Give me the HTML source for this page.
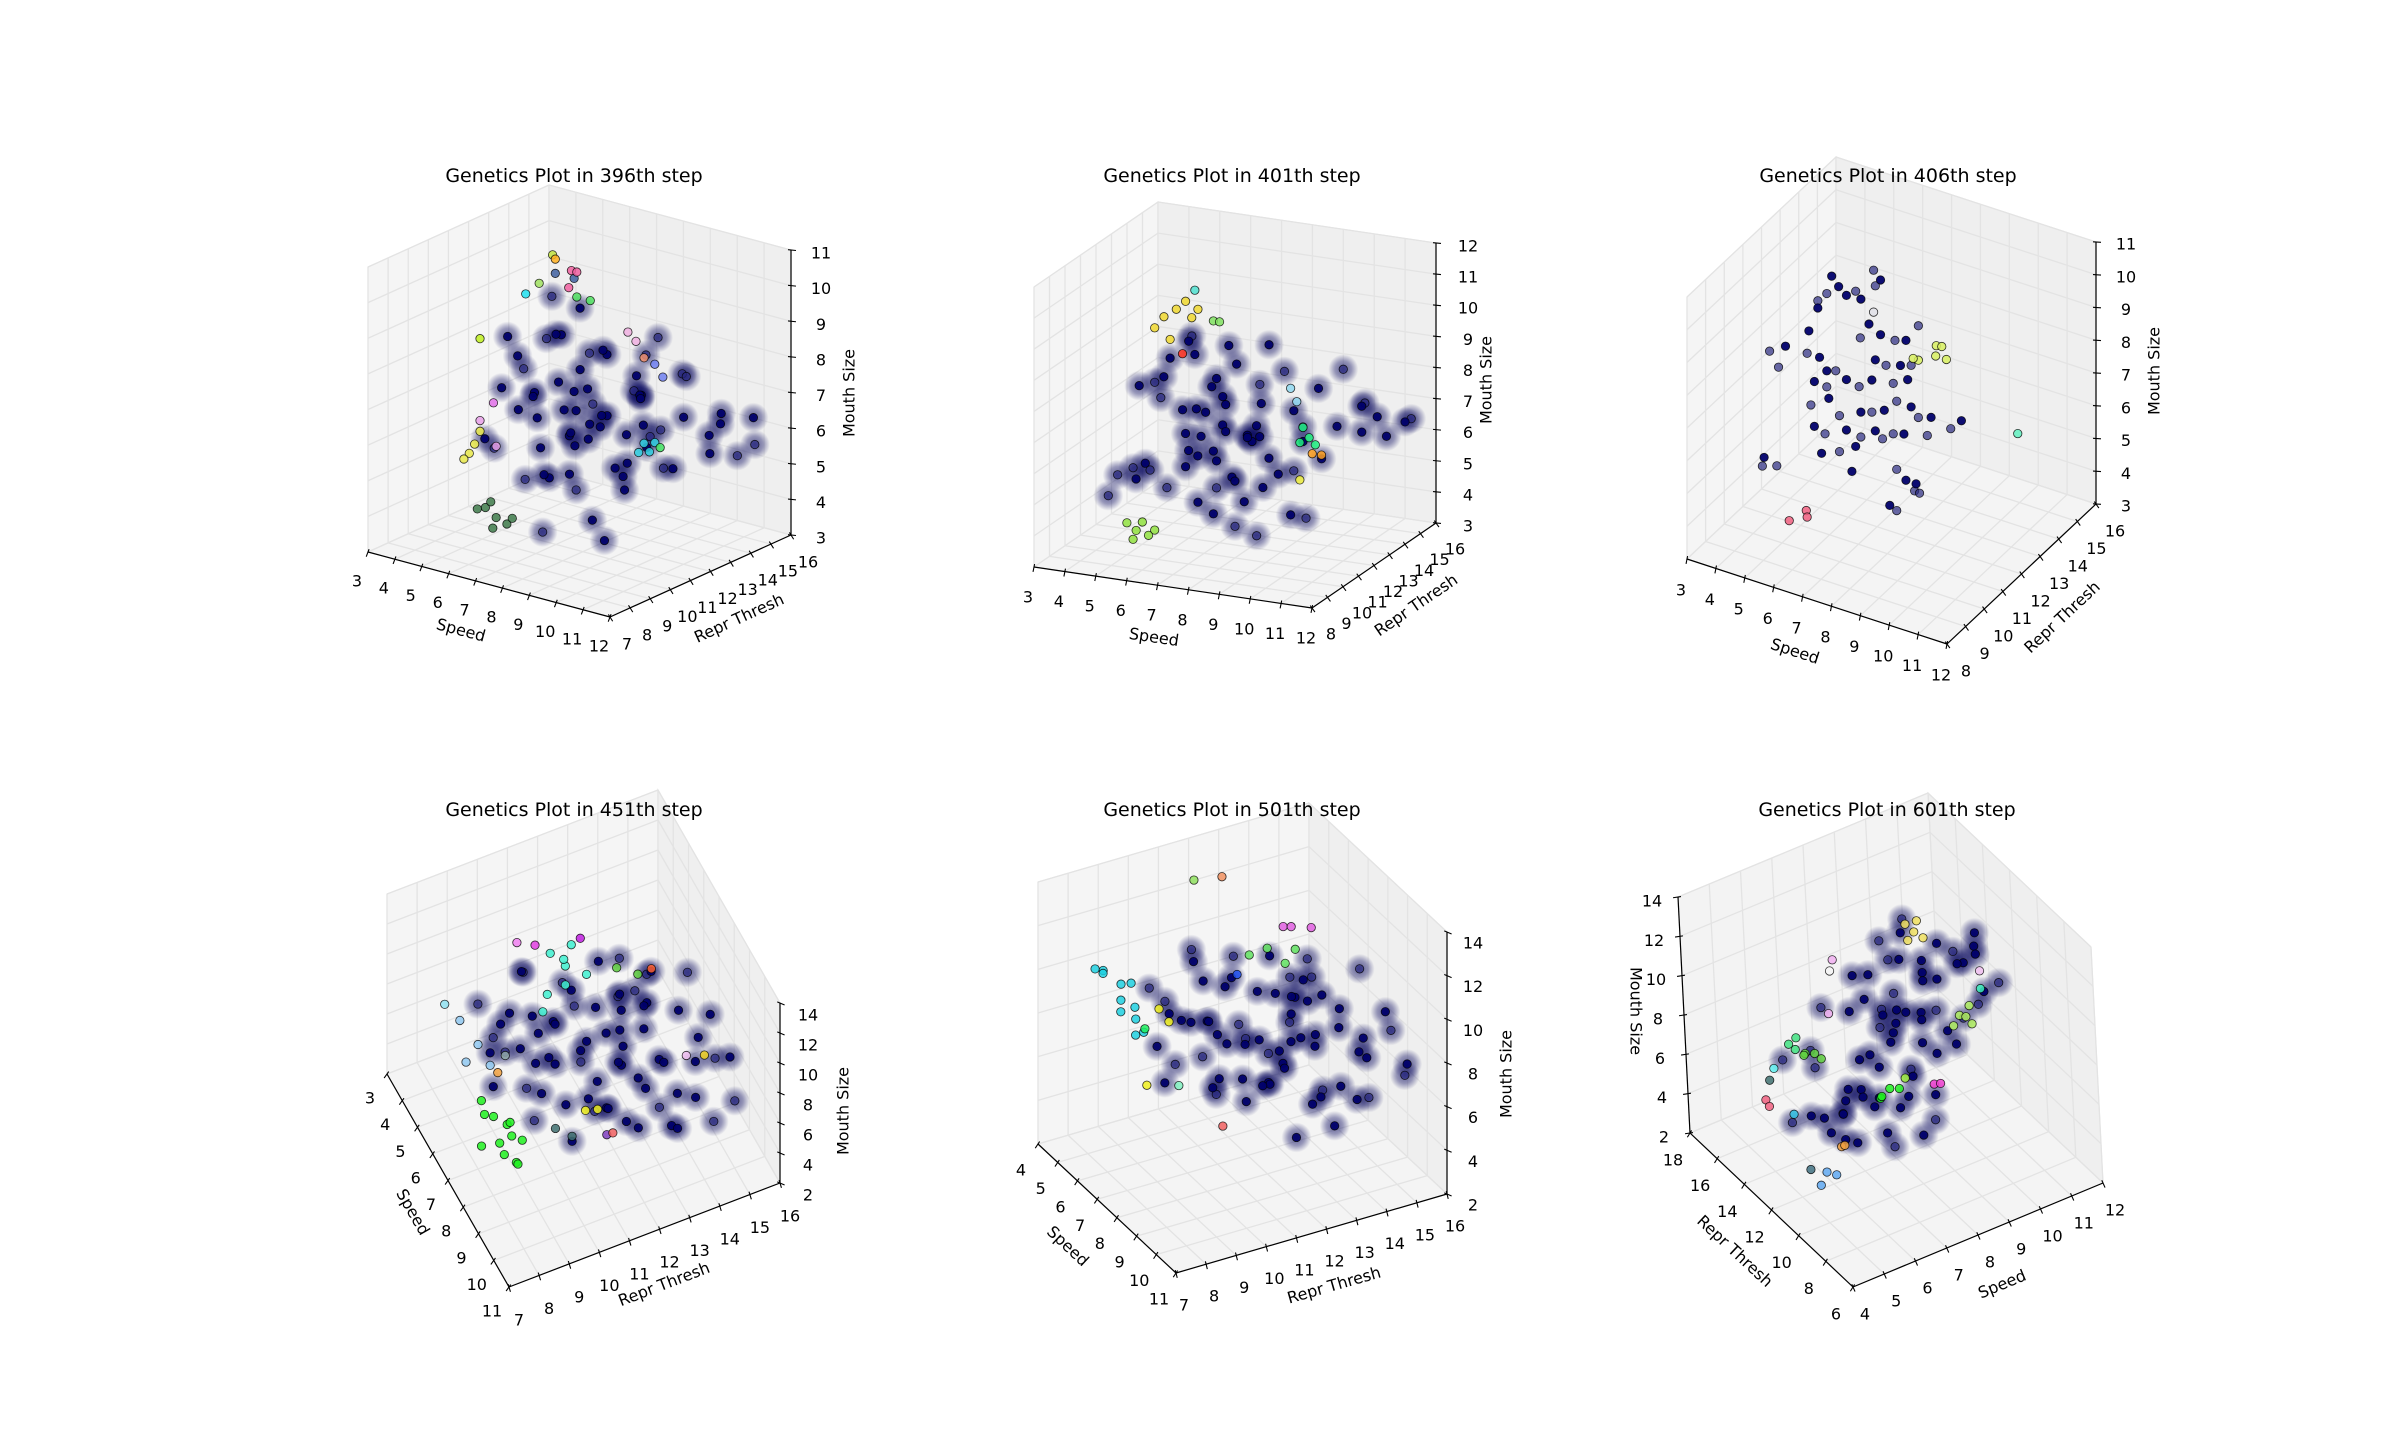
<!DOCTYPE html>
<html><head><meta charset="utf-8"><title>Genetics Plots</title>
<style>
html,body{margin:0;padding:0;background:#fff;}
svg{display:block;font-family:"DejaVu Sans","Liberation Sans",sans-serif;}
</style></head>
<body>
<svg id="fig" width="2400" height="1455" viewBox="0 0 2400 1455" xmlns="http://www.w3.org/2000/svg">
<defs>
<radialGradient id="haloGrad">
<stop offset="0" stop-color="#00005a" stop-opacity="0.62"/>
<stop offset="0.55" stop-color="#00005a" stop-opacity="0.38"/>
<stop offset="1" stop-color="#00005a" stop-opacity="0"/>
</radialGradient>
</defs>
<rect x="0" y="0" width="2400" height="1455" fill="#ffffff"/>
</svg>
<script>
// ---------- DATA: [speed, repr thresh, mouth size, colour key] ----------
const p1Points = [[6.2,11,7.1,'N'],[7.0,12,6.5,'N'],[7.8,11.5,7.4,'N'],[8.5,12.5,6.0,'N'],[6.8,10.5,5.8,'N'],[7.4,13,7.9,'N'],[5.9,12,8.3,'L'],[8.9,11,7.0,'N'],[9.5,12,6.6,'N'],[6.5,13.5,6.2,'L'],[7.2,9.8,6.9,'N'],[8.1,10.2,5.4,'N'],[5.6,11,6.5,'N'],[6.1,9.5,7.6,'N'],[7.9,13.8,7.2,'N'],[8.7,13.2,8.1,'L'],[9.8,10.8,5.9,'N'],[10.4,12.8,6.8,'N'],[11.2,13,6.4,'N'],[11.6,12.5,6.1,'N'],[10.9,14,6.7,'N'],[11.8,13.6,5.8,'L'],[6.6,11.8,8.6,'N'],[5.8,10.2,8.8,'N'],[5.2,11.5,7.8,'N'],[4.9,12.2,7.2,'L'],[5.4,9.6,6.0,'N'],[6.9,10.8,4.9,'N'],[7.6,11.2,4.6,'L'],[8.3,12.2,5.1,'N'],[9.1,11.6,4.8,'N'],[9.8,12.6,5.3,'L'],[8.8,10.4,4.2,'N'],[7.7,9.4,3.9,'L'],[9.4,10.2,3.8,'N'],[6.3,12.6,5.5,'N'],[7.3,12.8,5.9,'N'],[8.0,12,8.4,'N'],[9.0,13.4,8.6,'L'],[7.0,11,8.9,'N'],[6.4,13,9.0,'N'],[5.5,12.8,9.2,'L'],[8.2,11,6.2,'N'],[7.1,11.6,6.0,'N'],[6.7,12.3,6.9,'N'],[7.6,10.6,7.0,'N'],[8.4,11.4,6.8,'N'],[9.2,12.3,7.3,'N'],[10.0,11.5,6.2,'N'],[9.6,13.8,7.6,'L'],[10.6,12.0,5.6,'N'],[10.2,13.2,7.8,'L'],[8.6,9.8,6.4,'N'],[7.9,9.2,5.6,'N'],[5.0,10.6,5.4,'L'],[5.3,13.4,6.6,'N'],[6.0,14,7.4,'L'],[7.5,14.5,6.4,'N'],[8.5,14.2,5.7,'L'],[9.3,9.6,7.2,'N'],[10.8,10.6,6.9,'L'],[6.6,10,5.0,'L'],[8.0,13,4.6,'N'],[7.0,12.2,7.6,'N'],[6.0,11.2,6.9,'N'],[8.8,12.8,7.0,'N'],[9.9,11.0,7.9,'L'],[10.5,14.5,6.2,'N'],[11.5,14.8,6.5,'N'],[12.0,14.2,6.0,'L'],
[4.0,11.5,3.3,'#3e7a4a'],[4.4,11.5,3.1,'#3e7a4a'],[3.7,11.5,3.2,'#3e7a4a'],[4.8,11.5,3.0,'#3e7a4a'],[4.2,11.5,3.5,'#3e7a4a'],[5.0,11.5,3.2,'#3e7a4a'],[4.5,11.2,2.9,'#3e7a4a'],
[3.4,11.5,4.7,'#e8e84a'],[3.2,11.5,4.5,'#e8e84a'],[3.6,11.5,5.0,'#e8e84a'],[3.8,11.5,5.4,'#e8e84a'],
[3.8,11.5,5.7,'#e8a0e8'],[4.3,11.5,6.3,'#e070e8'],[4.4,11.5,5.1,'#e8a0e8'],
[6.0,11.5,10.0,'#a0e060'],[6.6,11.5,10.4,'#4060a0'],[7.3,11.5,10.4,'#4060a0'],[7.2,11.5,10.6,'#f060a0'],[7.4,11.5,10.6,'#f060a0'],[7.1,11.5,10.1,'#f060a0'],[7.4,11.5,9.9,'#50e060'],[7.9,11.5,9.9,'#50e060'],[6.5,11.5,10.9,'#c0e040'],[6.6,11.5,10.8,'#ffb020'],[5.5,11.5,9.6,'#20e0f0'],[3.8,11.5,8.0,'#c0f020'],
[9.9,11.5,6.3,'#30d0e0'],[10.1,11.5,6.1,'#30d0e0'],[9.7,11.5,6.0,'#30d0e0'],[10.3,11.5,6.4,'#30d0e0'],[10.5,11.5,6.3,'#40e060'],
[9.9,11.5,8.7,'#f09070'],[10.3,11.5,8.6,'#7080f0'],[10.6,11.5,8.3,'#7080f0'],[9.3,11.5,9.3,'#f0b0e0'],[9.6,11.5,9.1,'#f0b0e0']];

const p2Points = [[7.1,12,6.8,'N'],[6.5,11.5,7.4,'N'],[7.8,12.5,6.2,'N'],[8.4,11,7.0,'N'],[6.0,12.8,6.0,'N'],[5.6,11,7.8,'L'],[6.8,13.5,8.2,'N'],[7.5,10.5,8.6,'N'],[8.6,13,8.4,'L'],[6.2,10,8.9,'N'],[5.4,12,8.7,'N'],[4.8,11.2,8.0,'N'],[4.6,12.6,7.6,'L'],[5.2,13.2,6.6,'N'],[6.4,13,5.2,'N'],[7.2,12.4,5.0,'N'],[8.0,11.6,4.6,'N'],[8.8,12.2,5.4,'N'],[9.4,12.6,6.4,'N'],[9.8,11.8,7.2,'L'],[10.2,13.2,6.8,'N'],[9.2,14,7.6,'N'],[8.2,14.4,6.6,'N'],[7.0,14.6,7.2,'L'],[6.0,14.2,6.8,'N'],[5.2,10.2,5.4,'N'],[5.8,9.6,6.2,'N'],[6.6,9.4,5.6,'L'],[7.4,9.8,6.6,'N'],[8.4,10.2,5.8,'N'],[9.0,10.4,7.6,'N'],[7.6,11.2,7.8,'N'],[6.9,11.8,6.0,'N'],[6.2,11.4,6.6,'N'],[7.9,12.9,7.3,'N'],[8.9,11.4,6.2,'N'],[5.8,12.2,5.2,'N'],[6.6,12.6,4.5,'L'],[7.7,13.4,4.4,'N'],[8.6,13.6,5.0,'L'],[9.6,13.4,5.6,'N'],[10.6,14,6.4,'N'],[10.9,14.4,6.8,'N'],[11.3,14.2,6.3,'N'],[10.4,14.6,7.1,'L'],[11.6,14.8,6.6,'N'],[10.8,13.6,7.4,'N'],[12.0,14.4,6.9,'L'],[9.6,14.8,8.0,'L'],[8.0,13.2,9.1,'N'],[7.2,12.2,9.3,'N'],[6.4,11.6,9.1,'N'],[5.6,12.8,9.0,'N'],[4.2,12,5.0,'L'],[3.7,12,4.7,'L'],[3.9,11,4.4,'L'],[4.5,12.5,4.8,'L'],[9.8,12,4.2,'L'],[8.9,12.8,3.9,'N'],[7.5,12,3.6,'L'],[6.8,12,3.9,'N'],[8.2,12,3.4,'L'],[6.3,12,4.2,'N'],[7.8,10.8,7.1,'N'],[7.0,11.1,7.5,'N'],[6.7,10.6,6.4,'N'],[8.3,12,6.6,'N'],[7.4,13,6.1,'N'],[6.1,13.6,7.6,'N'],[5.0,14.2,8.6,'L'],
[4.9,12,9.6,'#f0d830'],[5.2,12,10.0,'#f0d830'],[5.6,12,10.3,'#f0d830'],[5.9,12,10.6,'#f0d830'],[6.1,12,10.1,'#f0d830'],[5.4,12,9.3,'#f0d830'],[6.3,12,10.4,'#f0d830'],[6.2,12,11.0,'#50e0d0'],[6.8,12,10.1,'#80e060'],[7.0,12,10.1,'#80e060'],
[4.0,12,3.2,'#90e040'],[4.3,12,3.0,'#90e040'],[4.5,12,3.3,'#90e040'],[4.7,12,2.9,'#90e040'],[4.9,12,3.1,'#90e040'],[4.2,12,2.7,'#90e040'],
[9.7,12,7.1,'#20f080'],[9.9,12,6.8,'#20f080'],[10.1,12,6.6,'#20f080'],[9.6,12,6.6,'#20f080'],[10.0,12,6.3,'#ffa020'],[10.3,12,6.3,'#ffa020'],[9.3,12,8.3,'#90d8f0'],[9.5,12,7.9,'#90d8f0'],[5.8,12,8.9,'#ff3020'],[9.6,12,5.4,'#f0f040']];

const p3Points = [[5.43,12,10.2],[6.88,12,10.8],[7.12,12,10.57],[6.94,12,10.34],[5.67,12,9.95],[6.26,12,9.98],[5.94,12,9.76],[5.26,12,9.62],[6.44,12,9.79],[4.95,12,9.31],[4.95,12,9.09],[6.88,12,9.52,'#e0e0e8'],[6.72,12,9.11],[8.43,12,9.55],[4.64,12,8.3],[6.42,12,8.6],[7.12,12,8.9],[7.62,12,8.87],[8.0,12,8.98],[3.28,12,7.29],[3.83,12,7.6],[4.58,12,7.6],[5.01,12,7.6],[3.59,12,6.89],[5.26,12,7.26],[5.57,12,7.35],[6.94,12,8.08],[7.31,12,8.02],[7.81,12,8.16],[8.18,12,8.27],[4.83,12,6.81],[5.26,12,6.77],[5.94,12,7.19],[6.38,12,7.1],[6.82,12,7.43],[7.56,12,7.54],[8.06,12,7.8],[4.71,12,6.06],[5.33,12,6.44],[5.7,12,6.02],[6.44,12,6.34],[6.82,12,6.45],[7.25,12,6.63],[7.68,12,7.03],[8.18,12,7.0],[8.43,12,6.75],[4.83,12,5.44],[5.2,12,5.32],[5.94,12,5.65],[6.44,12,5.58],[6.94,12,5.91],[7.19,12,5.74],[5.08,12,4.69],[5.7,12,4.92],[6.26,12,5.24],[7.56,12,6.0],[7.93,12,6.1],[8.74,12,6.29],[8.87,12,6.88],[9.55,12,6.73],[9.92,12,7.08],[3.03,12,3.71],[3.09,12,3.99],[3.53,12,3.86],[6.13,12,4.44],[7.68,12,4.95],[8.0,12,4.71],[8.3,12,4.47],[8.35,12,4.7],[8.47,12,4.45],[7.44,12,3.78],[7.68,12,3.69],
[9.05,12,9.12,'#d8f060'],[9.24,12,9.15,'#d8f060'],[9.03,12,8.8,'#d8f060'],[9.4,12,8.8,'#d8f060'],[8.43,12,8.5,'#d8f060'],[8.25,12,8.5,'#d8f060'],[11.87,12,7.25,'#60f0c0'],[3.96,12,2.31,'#f06080'],[4.55,12,2.79,'#f06080'],[4.58,12,2.6,'#f06080']];

const p4Points = [[7.8,11,9,'N'],[7.0,10,9.5,'N'],[8.5,12,8.5,'N'],[6.5,9,10,'N'],[9.0,13,9,'N'],[7.5,12.5,10,'N'],[8.2,9.5,8,'N'],[6.2,11.5,9.8,'N'],[9.5,11,8.2,'N'],[7.2,13.5,9.2,'N'],[8.8,10.5,10.4,'L'],[6.8,8.5,9.0,'N'],[7.6,8.2,8.4,'N'],[5.8,8.6,10.4,'L'],[5.5,10.2,10.8,'N'],[6.0,12.5,10.6,'N'],[6.6,13.8,9.8,'L'],[7.9,14.2,9.4,'N'],[8.6,14.5,8.6,'N'],[9.4,14,8.8,'N'],[9.8,13.2,8.0,'N'],[10.2,12.4,8.4,'L'],[9.6,12,9.6,'N'],[8.0,13,10.8,'N'],[7.2,11.8,10.2,'N'],[6.4,10.8,8.6,'N'],[5.9,9.6,9.2,'N'],[7.4,9.2,9.8,'N'],[8.6,8.8,9.6,'L'],[9.2,9.8,8.8,'N'],[10.0,10.8,9.2,'N'],[10.4,11.6,8.0,'N'],[9.0,11.8,10.8,'N'],[8.3,11.3,7.6,'N'],[7.1,12.2,8.0,'N'],[6.3,13.0,8.4,'L'],[5.8,11.8,7.8,'L'],[6.9,10.4,7.4,'N'],[7.7,10.2,11.2,'N'],[8.9,12.6,7.2,'N'],[9.9,14.4,9.6,'L'],[8.4,15.0,9.4,'N'],[7.3,14.8,10.4,'L'],[6.1,14.2,8.8,'N'],[10.6,13.4,9.0,'N'],[10.8,14.6,8.2,'L'],[9.3,15.2,8.0,'N'],[7.0,9.8,10.8,'N'],[6.6,11,11.4,'L'],[8.1,10.0,9.4,'N'],[8.7,11.8,9.2,'N'],[7.4,11.4,8.6,'N'],[6.8,12.8,9.6,'N'],[9.1,10.6,8.4,'N'],[8.0,12.2,9.8,'N'],[7.6,13.2,8.4,'N'],[9.7,12.8,10.2,'N'],[10.3,10.2,10.0,'L'],[5.6,13.4,9.4,'L'],[6.4,9.2,7.8,'L'],[10.4,9.4,8.8,'N'],[10.8,11,9.6,'N'],[9.5,8.6,9.2,'L'],[8.4,9.2,10.6,'N'],[7.2,8.4,10.8,'L'],[11.0,12.4,8.6,'N'],[10.6,12.8,7.4,'N'],[11.0,13.8,7.8,'L'],[6.0,10.0,11.8,'L'],[7.8,12.8,11.6,'L'],
[8.4,7.4,9.5,'#20f020'],[8.8,7.6,9.0,'#20f020'],[9.0,7.2,9.8,'#20f020'],[9.3,7.8,9.2,'#20f020'],[9.6,7.4,8.8,'#20f020'],[9.8,7.7,9.4,'#20f020'],[10.1,7.3,9.0,'#20f020'],[10.3,7.6,8.6,'#20f020'],[8.9,8.1,8.4,'#20f020'],[9.5,8.2,8.2,'#20f020'],[10.6,7.5,9.1,'#20f020'],[9.2,7.0,8.2,'#20f020'],
[6.4,11.2,12,'#40f0d0'],[6.0,11.6,12.4,'#40f0d0'],[6.8,11.0,11.6,'#40f0d0'],[6.2,10.8,12.8,'#40f0d0'],[5.9,11.4,11.4,'#40f0d0'],[7.0,11.6,12.2,'#40f0d0'],[6.6,10.5,11.0,'#40f0d0'],[6.9,10.2,10.6,'#40f0d0'],
[5.4,10.7,12,'#e040e0'],[5.2,10.2,12.2,'#f080f0'],[6.0,11.9,12.6,'#c020e0'],[6.4,8.3,9,'#90c8f0'],[6.0,7.9,10.2,'#90c8f0'],[5.6,7.6,10.8,'#90e0f0'],[6.8,7.7,9.0,'#90c8f0'],[7.0,8.4,8.6,'#90c8f0'],
[7.5,13.5,12,'#ff6030'],[7.2,12.5,12.3,'#60d040'],[7.6,13,12.2,'#60d040'],[9.7,10.2,9,'#f0f020'],[9.9,10.5,9.2,'#f0f020'],[9.4,14.3,9.0,'#f0d020'],[9.9,9.1,9,'#407070'],[10.2,9.5,8.7,'#407070'],[10.7,10.4,9,'#8040c0'],[10.9,10.5,9.4,'#f06060'],[9.2,13.8,9,'#f0c0f0'],[7.5,8.4,9,'#f0a040'],[7.2,8.8,9.3,'#90a8a8']];

const p5Points = [[8.7,10.8,9,'N'],[8.0,10,9.8,'N'],[9.4,11.6,8.4,'N'],[7.6,9,10.2,'N'],[9.8,12.4,9.2,'N'],[8.4,12,10.6,'N'],[9.2,9.4,8.0,'N'],[7.4,11.2,10.8,'N'],[10.2,10.6,8.6,'N'],[8.2,13.2,9.6,'N'],[9.6,10,11,'L'],[7.9,8.4,9.2,'N'],[8.6,8.2,8.2,'N'],[7.2,8.6,11.2,'L'],[7.0,10.2,11.6,'N'],[7.5,12.4,11.4,'N'],[7.8,13.6,10.2,'L'],[8.9,13.8,9.6,'N'],[9.5,14.2,8.6,'N'],[10.2,13.6,8.8,'N'],[10.5,12.8,7.8,'N'],[10.8,12.0,8.2,'L'],[10.0,11.8,10.0,'N'],[8.9,12.6,11.4,'N'],[8.1,11.6,10.6,'N'],[7.6,10.6,8.6,'N'],[7.3,9.6,9.4,'N'],[8.4,9.2,10.4,'N'],[9.6,8.8,10.0,'L'],[10.1,9.8,9.0,'N'],[10.7,10.8,9.6,'N'],[10.9,11.6,7.8,'N'],[9.7,11.8,11.6,'N'],[9.2,11.3,7.4,'N'],[8.3,12.2,7.8,'N'],[7.6,13.0,8.2,'L'],[7.2,11.8,7.6,'L'],[8.0,10.4,7.0,'N'],[8.6,10.2,11.8,'N'],[9.8,12.6,6.8,'N'],[10.6,14.4,9.8,'L'],[9.4,15.0,9.4,'N'],[8.4,14.8,10.6,'L'],[7.4,14.2,8.8,'N'],[10.9,13.4,9.2,'N'],[11.0,14.6,8.0,'L'],[10.2,15.2,7.6,'N'],[8.1,9.8,11.8,'N'],[7.8,11,12.2,'L'],[9.0,10.0,9.6,'N'],[9.5,11.8,9.4,'N'],[8.5,11.4,8.8,'N'],[8.0,12.8,9.8,'N'],[9.9,10.6,8.2,'N'],[8.9,12.2,10.0,'N'],[8.6,13.2,8.4,'N'],[10.4,12.8,10.4,'N'],[10.8,10.2,10.6,'L'],[7.0,13.4,9.6,'L'],[7.6,9.2,7.8,'L'],[10.9,9.4,8.8,'N'],[11.0,11,6.6,'N'],[10.6,8.6,9.2,'L'],[9.3,9.2,11.2,'N'],[8.3,8.4,11.6,'L'],[10.8,12.4,6.4,'N'],[9.8,13.8,6.2,'N'],[10.4,13.8,6.8,'L'],[7.2,10.0,12.4,'L'],[8.8,12.8,12.2,'L'],
[7.0,7.2,12.4,'#20d0e0'],[7.3,7.0,12.6,'#20d0e0'],[7.6,7.4,12.2,'#20d0e0'],[7.9,7.2,11.8,'#20d0e0'],[8.2,7.0,11.6,'#20d0e0'],[8.5,7.3,11.4,'#20d0e0'],[8.8,7.1,11.0,'#20d0e0'],[7.5,7.8,12.0,'#20d0e0'],[8.0,7.6,11.4,'#20d0e0'],[8.6,7.5,10.8,'#20d0e0'],[7.2,6.8,12.8,'#20d0e0'],
[5.8,11,14,'#90e060'],[6.0,11.8,14,'#f09060'],[8.8,12,14,'#e060e0'],[8.9,12.2,14,'#e060e0'],[9.0,12.8,13.8,'#e060e0'],[8.6,11.6,13,'#60e060'],[8.3,11.2,12.6,'#60e060'],[8.8,12.4,12.8,'#60e060'],[8.9,12.0,12.4,'#60e060'],
[8.0,8.4,11,'#f0f020'],[8.2,8.6,10.5,'#f0f020'],[8.3,7.8,8,'#f0f020'],[9.1,9.8,6,'#f06060'],[8.7,8.6,8,'#80f0c0'],[8.6,10.6,12.2,'#2050f0'],[8.2,7.8,10.5,'#20f060']];

const p6Points = [[8.1,12,8.3,'N'],[7.6,11,8.8,'N'],[8.6,13,7.8,'N'],[7.2,12.5,7.2,'N'],[8.8,11.5,9.2,'N'],[9.1,12,10.7,'N'],[9.5,13,10.4,'N'],[8.7,11,11.2,'N'],[9.8,12.5,11.4,'N'],[10.2,11.5,10.8,'N'],[8.4,13.5,11.8,'L'],[9.6,10.5,11.8,'N'],[10.5,13,10.2,'L'],[9.2,14,10,'N'],[10.8,12,11.6,'N'],[7.8,13,10.8,'N'],[8.2,10,10.2,'N'],[6.5,12,5.9,'N'],[6.0,11,6.2,'N'],[7.0,13,5.5,'N'],[5.6,12.5,5.4,'N'],[6.8,11.5,6.6,'N'],[7.4,12,5.0,'N'],[6.2,13.5,6.8,'L'],[5.4,11,6.4,'N'],[7.6,10.5,5.8,'N'],[6.0,12,4.6,'N'],[6.8,13,4.4,'L'],[7.8,12.6,4.8,'N'],[8.4,11.8,5.0,'N'],[5.2,13,5.0,'L'],[6.4,10.4,7.2,'N'],[7.2,11,7.8,'N'],[7.8,12,9.4,'N'],[8.4,12.4,9.0,'N'],[7.4,13.6,8.8,'N'],[8.9,13.8,8.6,'L'],[9.4,11,8.2,'N'],[8.0,10.4,7.2,'N'],[9.0,12,7.2,'N'],[9.8,12.8,7.8,'L'],[10.2,13.6,8.6,'N'],[10.6,11,9.4,'N'],[10.0,10,9.8,'L'],[11.0,12.6,10.4,'N'],[9.6,14.6,11.4,'L'],[8.8,12.8,12.4,'N'],[7.8,11.4,12.6,'L'],[6.9,12,12.0,'N'],[7.2,10.6,11.0,'L'],[6.6,13.8,9.4,'L'],[5.8,12.8,8.4,'L'],[5.4,14,7.4,'L'],[6.0,10,5.4,'N'],[7.0,9.6,4.8,'L'],[8.0,9.8,4.6,'N'],[8.8,10.8,4.2,'L'],[7.6,11.6,3.8,'N'],[6.6,12.4,3.6,'N'],[9.0,13,5.2,'L'],[9.6,12.4,6.0,'N'],[8.6,10.2,6.0,'N'],[7.9,13.4,6.4,'N'],[8.5,14,7.0,'L'],[9.9,11.6,6.8,'N'],[10.4,12.2,7.4,'L'],[11.2,13,9.6,'N'],[11.4,11.8,8.8,'L'],[7.4,12.4,10.2,'N'],[8.2,11.2,9.8,'N'],
[8.9,12,12.9,'#f0e060'],[8.7,12,12.6,'#f0e060'],[9.0,12,13.4,'#f0e060'],[8.8,12.4,13.1,'#f0e060'],[9.1,11.8,12.6,'#f0e060'],
[10.2,12,7.8,'#b0f060'],[10.4,12,7.6,'#b0f060'],[10.0,12,7.4,'#b0f060'],[10.6,12.2,7.9,'#b0f060'],[10.5,11.8,7.3,'#b0f060'],
[5.0,12,9.5,'#40e080'],[4.8,12,9.9,'#40e080'],[5.2,12.4,9.7,'#40e080'],[5.3,12,9.1,'#60d040'],[5.6,12,8.9,'#60d040'],[5.8,12,8.5,'#60d040'],[5.1,11.6,9.4,'#60d040'],
[7.9,12,5.6,'#20f020'],[8.2,12,5.4,'#20f020'],[7.6,12,5.3,'#20f020'],[8.4,12,5.8,'#a0f040'],[7.8,12.4,5.0,'#20f020'],[9.3,12,4.9,'#f040d0'],[9.5,12,4.8,'#f040d0'],
[4.0,12,7.6,'#f06080'],[4.1,12,7.2,'#f06080'],[4.3,12,9.0,'#60f0f0'],[4.15,12,8.5,'#407070'],[4.86,12,6.3,'#30c0e0'],[6.3,12,3.7,'#f0a040'],[6.4,12,3.7,'#f0a040'],
[5.8,12,2.74,'#60a8f0'],[5.6,12,2.2,'#60a8f0'],[6.1,12,2.4,'#60a8f0'],[5.3,12,3.2,'#407080'],[6.1,12,10.6,'#f0b0f0'],[6.3,12,13.2,'#f0b0f0'],[6.2,12,12.7,'#f4f4f4'],[10.9,12,9.6,'#f0c0f0'],[10.9,12,8.7,'#40f0c0']];

// tick label arrays
const ticks3to12 = [3,4,5,6,7,8,9,10,11,12];
const ticks3to11 = [3,4,5,6,7,8,9,10,11];
const ticks3to12z = [3,4,5,6,7,8,9,10,11,12];
const ticks7to16 = [7,8,9,10,11,12,13,14,15,16];
const ticks8to16 = [8,9,10,11,12,13,14,15,16];
const ticks4to11 = [4,5,6,7,8,9,10,11];
const ticks4to12 = [4,5,6,7,8,9,10,11,12];
const ticks2to14 = [2,4,6,8,10,12,14];
const ticks6to18 = [6,8,10,12,14,16,18];
const panelTitles = ['Genetics Plot in 396th step','Genetics Plot in 401th step','Genetics Plot in 406th step','Genetics Plot in 451th step','Genetics Plot in 501th step','Genetics Plot in 601th step'];

// ---------- LAYOUT (geometry only) ----------
const std = [{fix:0,v:0,fill:'#f5f5f5'},{fix:1,v:1,fill:'#efefef'},{fix:2,v:0,fill:'#f4f4f4'}];
const panels = [
 {pts:p1Points, halo:true, r:[[3,12],[7,16],[3,11]], t:[ticks3to12,ticks7to16,ticks3to11], O:[368,552], E:[[242,65],[181,-82],[0,-285]], panes:std,
  axes:[{a:0,at:[null,0,0],off:[-11,29]},{a:1,at:[1,null,0],off:[17,27]},{a:2,at:[1,1,null],off:[30,3]}],
  labels:[[461,630,15,'Speed'],[739,618,-24.4,'Repr Thresh'],[849,393,-90,'Mouth Size']], title:[574,176]},
 {pts:p2Points, halo:true, r:[[3,12],[8,16],[3,12]], t:[ticks3to12,ticks8to16,ticks3to12z], O:[1034,567], E:[[278,41],[124,-85],[0,-280]], panes:std,
  axes:[{a:0,at:[null,0,0],off:[-6,30]},{a:1,at:[1,null,0],off:[19,26]},{a:2,at:[1,1,null],off:[32,3]}],
  labels:[[1154,637,8.4,'Speed'],[1416,605,-34.4,'Repr Thresh'],[1486,380,-90,'Mouth Size']], title:[1232,176]},
 {pts:p3Points, halo:false, r:[[3,12],[8,16],[3,11]], t:[ticks3to12,ticks8to16,ticks3to11], O:[1687,559], E:[[260,85],[149,-140],[0,-262]], panes:std,
  axes:[{a:0,at:[null,0,0],off:[-6,31]},{a:1,at:[1,null,0],off:[19,27]},{a:2,at:[1,1,null],off:[30,2]}],
  labels:[[1795,651,18,'Speed'],[2062,617,-43,'Repr Thresh'],[2154,371,-90,'Mouth Size']], title:[1888,176]},
 {pts:p4Points, halo:true, r:[[3,11],[7,16],[2,14]], t:[ticks3to11,ticks7to16,ticks2to14], O:[387,1074], E:[[122,213],[271,-104],[0,-180]], panes:std,
  axes:[{a:0,at:[null,0,0],off:[-17,24]},{a:1,at:[1,null,0],off:[10,33]},{a:2,at:[1,1,null],off:[28,12]}],
  labels:[[413,1212,60,'Speed'],[664,1284,-21,'Repr Thresh'],[843,1111,-90,'Mouth Size']], title:[574,810]},
 {pts:p5Points, halo:true, r:[[4,11],[7,16],[2,14]], t:[ticks4to11,ticks7to16,ticks2to14], O:[1038,1144], E:[[138,129],[271,-79],[0,-262]], panes:std,
  axes:[{a:0,at:[null,0,0],off:[-17,26]},{a:1,at:[1,null,0],off:[8,32]},{a:2,at:[1,1,null],off:[26,11]}],
  labels:[[1068,1246,43,'Speed'],[1334,1285,-16,'Repr Thresh'],[1506,1074,-90,'Mouth Size']], title:[1232,810]},
 {pts:p6Points, halo:true, r:[[4,12],[6,18],[2,14]], t:[ticks4to12,ticks6to18,ticks2to14], O:[1853,1287], E:[[250,-104],[-163,-154],[-12,-236]],
  panes:[{fix:0,v:1,fill:'#efefef'},{fix:1,v:1,fill:'#f3f3f3'},{fix:2,v:0,fill:'#f4f4f4'}],
  axes:[{a:0,at:[null,0,0],off:[12,27]},{a:1,at:[0,null,0],off:[-17,27]},{a:2,at:[0,1,null],off:[-26,4]}],
  labels:[[2002,1284,-22.6,'Speed'],[1735,1251,43,'Repr Thresh'],[1636,1011,90,'Mouth Size']], title:[1887,810]}
];

const NS='http://www.w3.org/2000/svg';
const svg=document.getElementById('fig');
function mk(tag,attrs,parent){const e=document.createElementNS(NS,tag);for(const k in attrs)e.setAttribute(k,attrs[k]);parent.appendChild(e);return e;}
function F(p,f){return [p.O[0]+f[0]*p.E[0][0]+f[1]*p.E[1][0]+f[2]*p.E[2][0], p.O[1]+f[0]*p.E[0][1]+f[1]*p.E[1][1]+f[2]*p.E[2][1]];}
function frac(p,a,v){return (v-p.r[a][0])/(p.r[a][1]-p.r[a][0]);}
function proj(p,x,y,z){return F(p,[frac(p,0,x),frac(p,1,y),frac(p,2,z)]);}

panels.forEach((p,pi)=>{
  const g=mk('g',{},svg);
  
  
  p.panes.forEach(pn=>{
    const others=[0,1,2].filter(a=>a!==pn.fix);
    const cor=[[0,0],[1,0],[1,1],[0,1]].map(([u,w])=>{const f=[0,0,0];f[pn.fix]=pn.v;f[others[0]]=u;f[others[1]]=w;return F(p,f);});
    const poly=mk('polygon',{points:cor.map(c=>c.join(',')).join(' '),fill:pn.fill,stroke:'#e0e0e0','stroke-width':1},g);
    
    
    others.forEach((a,k)=>{
      const b=others[1-k];
      p.t[a].forEach(tv=>{
        const fa=frac(p,a,tv);
        const f1=[0,0,0],f2=[0,0,0];f1[pn.fix]=pn.v;f2[pn.fix]=pn.v;f1[a]=fa;f2[a]=fa;f1[b]=0;f2[b]=1;
        const A=F(p,f1),B=F(p,f2);
        const gl=mk('line',{x1:A[0],y1:A[1],x2:B[0],y2:B[1],stroke:'#e3e3e3','stroke-width':1.3},g);
        
        
      });
    });
  });
  const axNames=['speed-axis','repr-thresh-axis','mouth-size-axis'];
  p.axes.forEach(ax=>{
    const f0=ax.at.map(v=>v===null?0:v), f1=ax.at.map(v=>v===null?1:v);
    const A=F(p,f0),B=F(p,f1);
    const ln=mk('line',{x1:A[0],y1:A[1],x2:B[0],y2:B[1],stroke:'#000','stroke-width':1.2},g);
    
    
    const L=Math.hypot(ax.off[0],ax.off[1]), n=[ax.off[0]/L,ax.off[1]/L];
    p.t[ax.a].forEach(tv=>{
      const f=ax.at.map(v=>v===null?frac(p,ax.a,tv):v);
      const P=F(p,f);
      const tk=mk('line',{x1:P[0]-n[0]*3,y1:P[1]-n[1]*3,x2:P[0]+n[0]*5,y2:P[1]+n[1]*5,stroke:'#000','stroke-width':1.1},g);
      
      
      const tx=mk('text',{x:P[0]+ax.off[0],y:P[1]+ax.off[1],'font-size':16,'text-anchor':'middle','dominant-baseline':'central',fill:'#000'},g);
      tx.textContent=String(tv);
      
      
    });
  });
  p.labels.forEach((lb,k)=>{
    const t=mk('text',{x:lb[0],y:lb[1],'font-size':16,'text-anchor':'middle','dominant-baseline':'central',transform:`rotate(${lb[2]} ${lb[0]} ${lb[1]})`},g);
    t.textContent=lb[3];
    
    
  });
  const tt=mk('text',{x:p.title[0],y:p.title[1],'font-size':19,'text-anchor':'middle','dominant-baseline':'central'},g);
  tt.textContent=panelTitles[pi];
  
  
  const pts=p.pts;
  if(p.halo){
    pts.forEach((d,i)=>{
      const c=d[3]||(i%2?'L':'N');
      if(c!=='N'&&c!=='L')return;
      const P=proj(p,d[0],d[1],d[2]);
      const h=mk('circle',{cx:P[0],cy:P[1],r:15,fill:'url(#haloGrad)'},g);
      
      
    });
  }
  const order=[...pts.keys()].sort((i,j)=>{const ci=pts[i][3]||(i%2?'L':'N'),cj=pts[j][3]||(j%2?'L':'N');return (ci==='L'?0:1)-(cj==='L'?0:1);});
  order.forEach(i=>{
    const d=pts[i];
    const c=d[3]||(i%2?'L':'N');
    const P=proj(p,d[0],d[1],d[2]);
    let fill=c,op=0.85;
    if(c==='N'){fill='#00006a';op=0.95;} else if(c==='L'){fill='#2a2a80';op=0.7;}
    const dot=mk('circle',{cx:P[0],cy:P[1],r:4.2,fill:fill,'fill-opacity':op,stroke:'#000','stroke-opacity':0.8,'stroke-width':0.8},g);
    
    
  });
});
</script>
</body></html>
